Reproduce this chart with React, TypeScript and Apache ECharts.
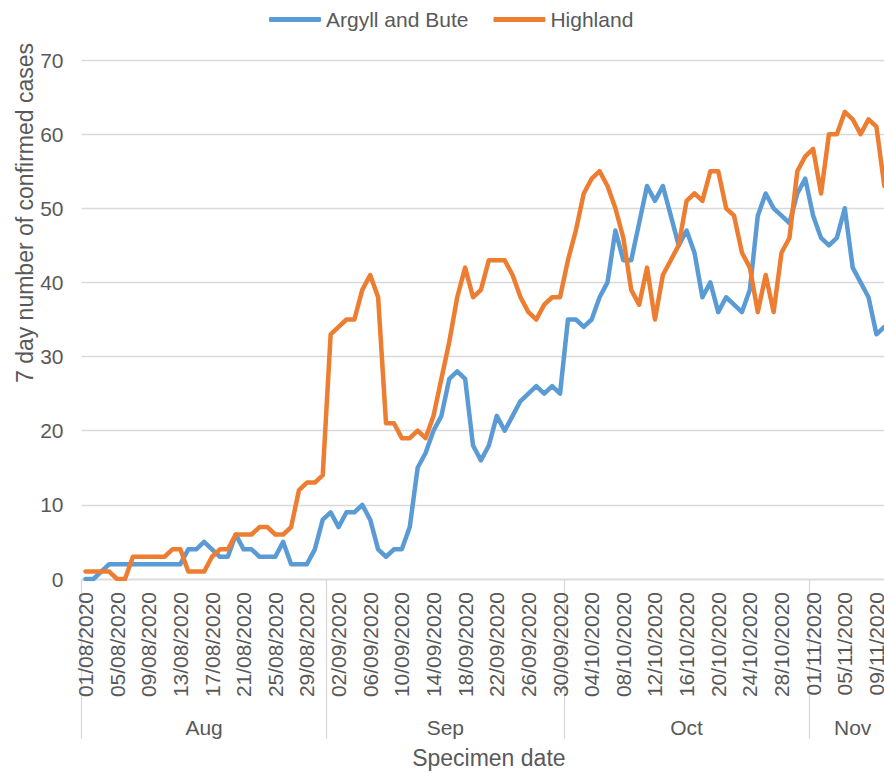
import React, { useEffect, useRef } from "react";
import * as echarts from "echarts";

const dates = [
  "01/08/2020","02/08/2020","03/08/2020","04/08/2020","05/08/2020","06/08/2020","07/08/2020","08/08/2020","09/08/2020","10/08/2020",
  "11/08/2020","12/08/2020","13/08/2020","14/08/2020","15/08/2020","16/08/2020","17/08/2020","18/08/2020","19/08/2020","20/08/2020",
  "21/08/2020","22/08/2020","23/08/2020","24/08/2020","25/08/2020","26/08/2020","27/08/2020","28/08/2020","29/08/2020","30/08/2020",
  "31/08/2020",
  "01/09/2020","02/09/2020","03/09/2020","04/09/2020","05/09/2020","06/09/2020","07/09/2020","08/09/2020","09/09/2020","10/09/2020",
  "11/09/2020","12/09/2020","13/09/2020","14/09/2020","15/09/2020","16/09/2020","17/09/2020","18/09/2020","19/09/2020","20/09/2020",
  "21/09/2020","22/09/2020","23/09/2020","24/09/2020","25/09/2020","26/09/2020","27/09/2020","28/09/2020","29/09/2020","30/09/2020",
  "01/10/2020","02/10/2020","03/10/2020","04/10/2020","05/10/2020","06/10/2020","07/10/2020","08/10/2020","09/10/2020","10/10/2020",
  "11/10/2020","12/10/2020","13/10/2020","14/10/2020","15/10/2020","16/10/2020","17/10/2020","18/10/2020","19/10/2020","20/10/2020",
  "21/10/2020","22/10/2020","23/10/2020","24/10/2020","25/10/2020","26/10/2020","27/10/2020","28/10/2020","29/10/2020","30/10/2020",
  "31/10/2020",
  "01/11/2020","02/11/2020","03/11/2020","04/11/2020","05/11/2020","06/11/2020","07/11/2020","08/11/2020","09/11/2020","10/11/2020",
  "11/11/2020",
];

const months = ["Aug", "Sep", "Oct", "Nov"];

const argyllAndBute = [
  0, 0, 1, 2, 2, 2, 2, 2, 2, 2,
  2, 2, 2, 4, 4, 5, 4, 3, 3, 6,
  4, 4, 3, 3, 3, 5, 2, 2, 2, 4,
  8, 9, 7, 9, 9, 10, 8, 4, 3, 4,
  4, 7, 15, 17, 20, 22, 27, 28, 27, 18,
  16, 18, 22, 20, 22, 24, 25, 26, 25, 26,
  25, 35, 35, 34, 35, 38, 40, 47, 43, 43,
  48, 53, 51, 53, 49, 45, 47, 44, 38, 40,
  36, 38, 37, 36, 39, 49, 52, 50, 49, 48,
  52, 54, 49, 46, 45, 46, 50, 42, 40, 38,
  33, 34, null,
];

const highland = [
  1, 1, 1, 1, 0, 0, 3, 3, 3, 3,
  3, 4, 4, 1, 1, 1, 3, 4, 4, 6,
  6, 6, 7, 7, 6, 6, 7, 12, 13, 13,
  14, 33, 34, 35, 35, 39, 41, 38, 21, 21,
  19, 19, 20, 19, 22, 27, 32, 38, 42, 38,
  39, 43, 43, 43, 41, 38, 36, 35, 37, 38,
  38, 43, 47, 52, 54, 55, 53, 50, 46, 39,
  37, 42, 35, 41, 43, 45, 51, 52, 51, 55,
  55, 50, 49, 44, 42, 36, 41, 36, 44, 46,
  55, 57, 58, 52, 60, 60, 63, 62, 60, 62,
  61, 53, null,
];

const seriesNames = ["Argyll and Bute", "Highland"];
const yTitle = "7 day number of confirmed cases";
const xTitle = "Specimen date";

const FONT = "'Liberation Sans', Arial, sans-serif";
const TEXT = "#595959";
const GRID = "#D9D9D9";

export default function App() {
  const ref = useRef<HTMLDivElement>(null);

  useEffect(() => {
    document.body.style.margin = "0";
    document.body.style.overflow = "hidden";
    if (!ref.current) return;
    const chart = echarts.init(ref.current, null, { renderer: "svg" });

    const monthStarts: number[] = [];
    dates.forEach((d, i) => {
      if (d.startsWith("01/")) monthStarts.push(i);
    });
    const startSet = new Set(monthStarts);

    chart.setOption({
      animation: false,
      backgroundColor: "#ffffff",
      textStyle: { fontFamily: FONT },
      legend: {
        data: seriesNames,
        left: 264,
        top: 4,
        icon: "roundRect",
        itemWidth: 52,
        itemHeight: 5,
        itemGap: 25,
        textStyle: { fontSize: 21, color: TEXT, fontFamily: FONT },
      },
      grid: { left: 81.5, top: 60, bottom: 194.5, right: 0.8, containLabel: false },
      xAxis: [
        {
          type: "category",
          data: dates,
          boundaryGap: true,
          axisLine: { show: true, lineStyle: { color: GRID, width: 1.3 } },
          axisTick: {
            show: true,
            length: 160,
            interval: (i: number) => startSet.has(i),
            lineStyle: { color: GRID, width: 1.3 },
          },
          axisLabel: {
            rotate: 90,
            interval: 3,
            fontSize: 21,
            color: TEXT,
            margin: 13,
            fontFamily: FONT,
          },
          name: xTitle,
          nameLocation: "middle",
          nameGap: 167,
          nameTextStyle: { fontSize: 23, color: TEXT, fontFamily: FONT },
        },
      ],
      yAxis: {
        type: "value",
        min: 0,
        max: 70,
        interval: 10,
        axisLine: { show: false },
        axisTick: { show: false },
        axisLabel: { fontSize: 21, color: TEXT, margin: 18, fontFamily: FONT },
        splitLine: { show: true, lineStyle: { color: GRID, width: 1.3 } },
      },
      series: [
        {
          name: seriesNames[0],
          type: "line",
          data: argyllAndBute,
          symbol: "none",
          smooth: false,
          color: "#5B9BD5",
          lineStyle: { width: 4.5, color: "#5B9BD5", join: "round", cap: "round" },
        },
        {
          name: seriesNames[1],
          type: "line",
          data: highland,
          symbol: "none",
          smooth: false,
          color: "#ED7D31",
          lineStyle: { width: 4.5, color: "#ED7D31", join: "round", cap: "round" },
        },
      ],
    });

    const p0 = chart.convertToPixel({ xAxisIndex: 0 }, dates[0]) as number;
    const p1 = chart.convertToPixel({ xAxisIndex: 0 }, dates[1]) as number;
    const cw = p1 - p0;
    const boundary = (i: number) => p0 + (i - 0.5) * cw;
    const yBase = chart.convertToPixel({ yAxisIndex: 0 }, 0) as number;

    const graphics: any[] = months.map((m, k) => {
      const s = monthStarts[k];
      const e = k + 1 < monthStarts.length ? monthStarts[k + 1] : dates.length;
      return {
        type: "text",
        x: (boundary(s) + boundary(e)) / 2,
        y: yBase + 148,
        style: {
          text: m,
          fontSize: 21,
          fill: TEXT,
          fontFamily: FONT,
          align: "center",
          verticalAlign: "middle",
        },
      };
    });
    graphics.push({
      type: "text",
      x: 25,
      y: 213,
      rotation: Math.PI / 2,
      style: {
        text: yTitle,
        fontSize: 23,
        fill: TEXT,
        fontFamily: FONT,
        align: "center",
        verticalAlign: "middle",
      },
    });
    chart.setOption({ graphic: graphics });

    return () => chart.dispose();
  }, []);

  return (
    <div style={{ width: 884, height: 774, overflow: "hidden", position: "relative" }}>
      <div ref={ref} style={{ width: 897, height: 774 }} />
    </div>
  );
}
